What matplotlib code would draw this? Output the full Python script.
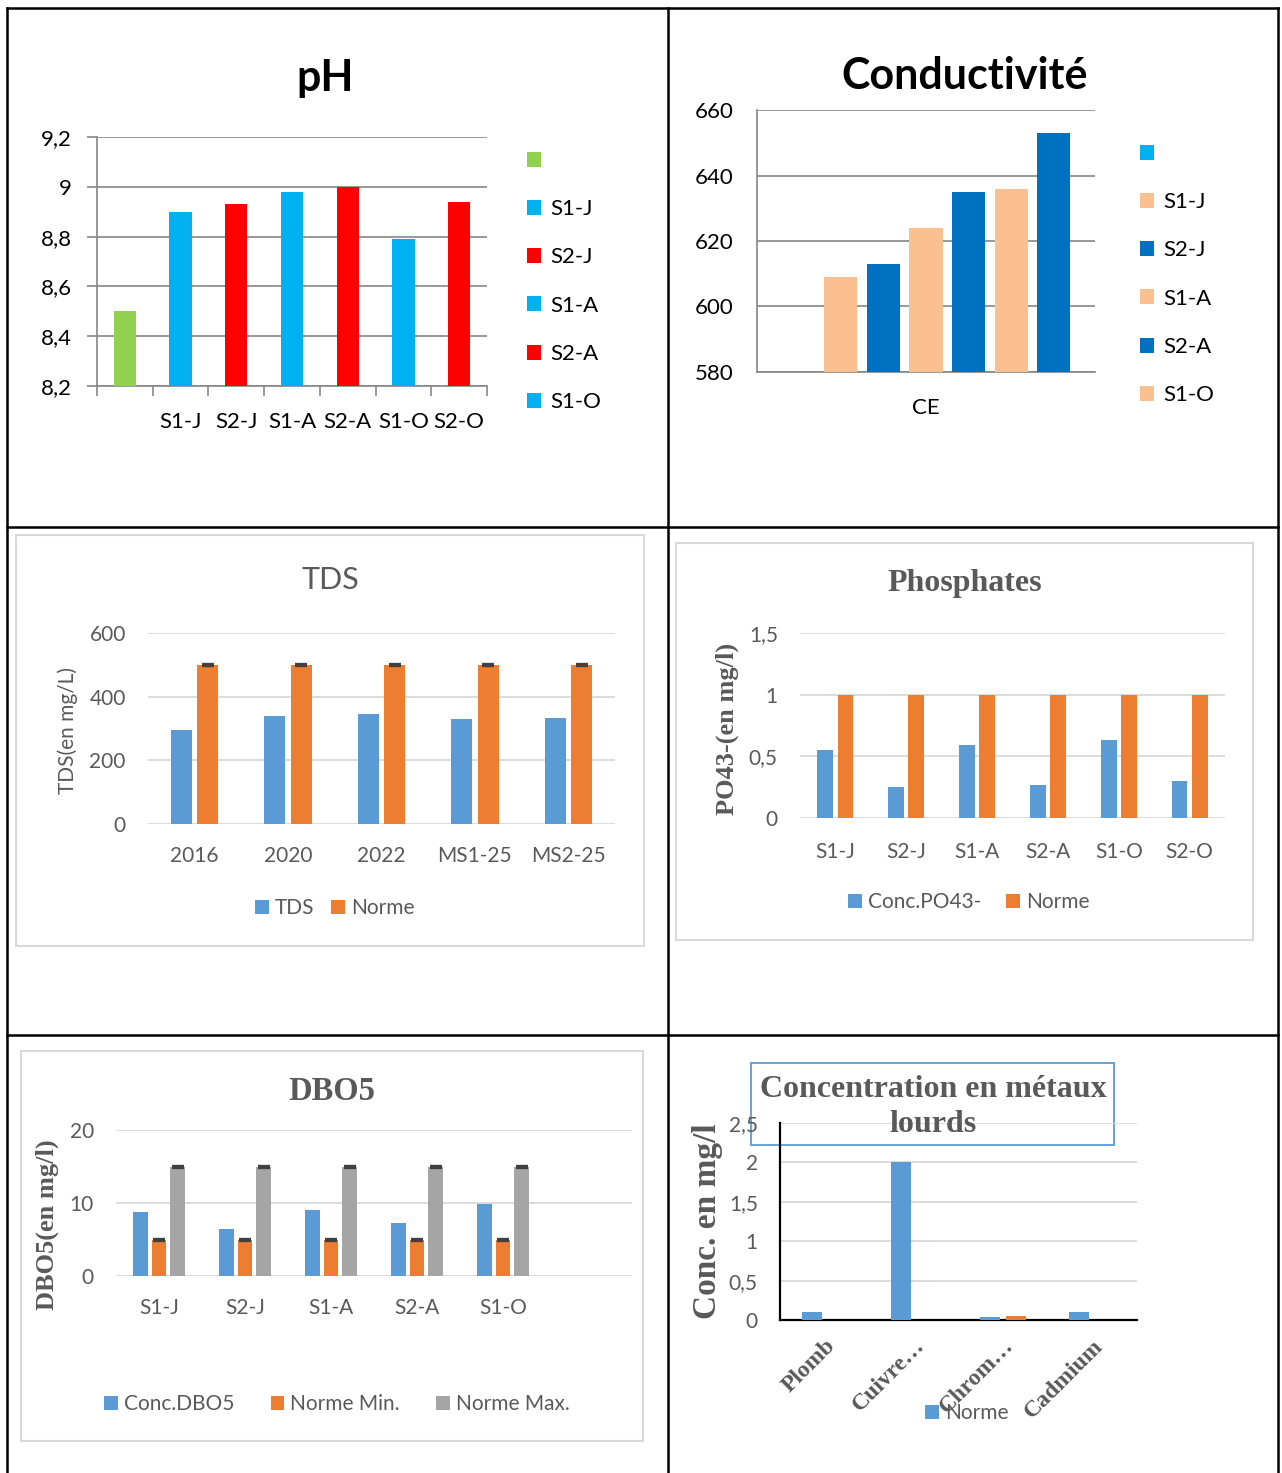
import numpy as np
import matplotlib
matplotlib.use('Agg')
import matplotlib.pyplot as plt
from matplotlib.patches import Rectangle
from matplotlib.ticker import FuncFormatter

W, H = 1282, 1473
DPI = 100

plt.rcParams['font.family'] = ['Lato', 'DejaVu Sans']
SERIF = ['Liberation Serif', 'DejaVu Serif']
GREY_TXT = '#595959'
GRID_OLD = '#868686'
GRID_NEW = '#D9D9D9'
BLUE, ORANGE, GREY = '#5B9BD5', '#ED7D31', '#A5A5A5'

# ---- pH ----
ph_categories = ['', 'S1-J', 'S2-J', 'S1-A', 'S2-A', 'S1-O', 'S2-O']
ph_values = [8.50, 8.90, 8.93, 8.98, 9.00, 8.79, 8.94]
ph_colors = ['#92D050', '#00B0F0', '#FF0000', '#00B0F0', '#FF0000', '#00B0F0', '#FF0000']
ph_ticks = [8.2, 8.4, 8.6, 8.8, 9.0, 9.2]

# ---- Conductivité ----
ce_series = ['', 'S1-J', 'S2-J', 'S1-A', 'S2-A', 'S1-O', 'S2-O']
ce_values = [np.nan, 609, 613, 624, 635, 636, 653]
ce_colors = ['#00B0F0', '#FAC090', '#0070C0', '#FAC090', '#0070C0', '#FAC090', '#0070C0']
ce_ticks = [580, 600, 620, 640, 660]

# ---- TDS ----
tds_categories = ['2016', '2020', '2022', 'MS1-25', 'MS2-25']
tds_values = [295, 340, 345, 330, 332]
tds_norme = [500, 500, 500, 500, 500]
tds_ticks = [0, 200, 400, 600]

# ---- Phosphates ----
po4_categories = ['S1-J', 'S2-J', 'S1-A', 'S2-A', 'S1-O', 'S2-O']
po4_values = [0.55, 0.25, 0.59, 0.27, 0.63, 0.30]
po4_norme = [1, 1, 1, 1, 1, 1]
po4_ticks = [0, 0.5, 1, 1.5]

# ---- DBO5 ----
dbo_categories = ['S1-J', 'S2-J', 'S1-A', 'S2-A', 'S1-O', '']
dbo_values = [8.8, 6.5, 9.0, 7.2, 9.8, np.nan]
dbo_min = [5, 5, 5, 5, 5, np.nan]
dbo_max = [15, 15, 15, 15, 15, np.nan]
dbo_ticks = [0, 10, 20]

# ---- Métaux lourds ----
metal_categories = ['Plomb', 'Cuivre…', 'Chrom…', 'Cadmium']
metal_norme = [0.10, 2.00, 0.04, 0.10]
metal_second = [0.0, 0.0, 0.05, 0.0]
metal_ticks = [0, 0.5, 1, 1.5, 2, 2.5]

fr_fmt = FuncFormatter(lambda v, p: f'{v:g}'.replace('.', ','))

fig = plt.figure(figsize=(W / DPI, H / DPI), dpi=DPI)


def fx(x):
    return x / W


def fy(y):
    return 1 - y / H


def axes_px(left, top, right, bottom):
    ax = fig.add_axes([left / W, 1 - bottom / H, (right - left) / W, (bottom - top) / H])
    ax.set_facecolor('none')
    return ax


# table frame and chart boxes
bg = fig.add_axes([0, 0, 1, 1], zorder=-10)
bg.set_xlim(0, W)
bg.set_ylim(H, 0)
bg.axis('off')
for xv in (7, 668, 1278):
    bg.plot([xv, xv], [8, H], color='black', lw=1.8, solid_capstyle='projecting')
for yv in (8, 527, 1035):
    bg.plot([7, 1278], [yv, yv], color='black', lw=1.8, solid_capstyle='projecting')
for (l, t, r, b) in [(16, 535, 644, 946), (676, 543, 1253, 940), (21, 1051, 643, 1441)]:
    bg.add_patch(Rectangle((l, t), r - l, b - t, fill=False, edgecolor=GRID_NEW, lw=1.5))
bg.add_patch(Rectangle((751, 1063), 1114 - 751, 1145 - 1063, fill=False,
                       edgecolor=BLUE, lw=1.3, zorder=5))


def clean_spines(ax, keep=()):
    for s in ('top', 'right', 'left', 'bottom'):
        ax.spines[s].set_visible(s in keep)


# ================= pH =================
ax = axes_px(97, 137, 487, 386)
x = np.arange(len(ph_categories))
ph_bars = ax.bar(x, ph_values, width=0.4, color=ph_colors, zorder=3)
ax.set_xlim(-0.5, len(ph_categories) - 0.5)
ax.set_ylim(ph_ticks[0], ph_ticks[-1])
ax.set_yticks(ph_ticks)
ax.yaxis.set_major_formatter(fr_fmt)
ax.grid(axis='y', color=GRID_OLD, lw=1.2, zorder=0)
ax.set_axisbelow(True)
clean_spines(ax, keep=('left', 'bottom'))
for s in ('left', 'bottom'):
    ax.spines[s].set_color(GRID_OLD)
    ax.spines[s].set_linewidth(1.2)
ax.set_xticks(np.arange(len(ph_categories) + 1) - 0.5)
ax.set_xticklabels([])
ax.set_xticks(x, minor=True)
ax.set_xticklabels(ph_categories, minor=True)
ax.tick_params(axis='x', which='major', length=7, width=1.2, color=GRID_OLD)
ax.tick_params(axis='x', which='minor', length=0, labelsize=16, pad=19)
ax.tick_params(axis='y', length=7, width=1.2, color=GRID_OLD, labelsize=16, pad=11)
fig.text(fx(325), fy(78), 'pH', ha='center', va='center', fontsize=31, fontweight='bold')
ax.legend(list(ph_bars.patches[:6]), ph_categories[:6], loc='upper left',
          bbox_to_anchor=(fx(527), fy(151)), bbox_transform=fig.transFigure,
          frameon=False, fontsize=16, handlelength=0.65, handleheight=0.65,
          handletextpad=0.4, labelspacing=1.27, borderpad=0, borderaxespad=0)

# ================= Conductivité =================
ax = axes_px(757, 110, 1095, 372)
slot, bw = 0.126, 0.098
ce_handles = []
for i, (v, c) in enumerate(zip(ce_values, ce_colors)):
    bc = ax.bar((i - (len(ce_values) - 1) / 2) * slot, v, width=bw, color=c, zorder=3)
    ce_handles.append(bc.patches[0])
ax.set_xlim(-0.5, 0.5)
ax.set_ylim(ce_ticks[0], ce_ticks[-1])
ax.set_yticks(ce_ticks)
ax.grid(axis='y', color=GRID_OLD, lw=1.2, zorder=0)
ax.set_axisbelow(True)
clean_spines(ax, keep=('left', 'bottom'))
for s in ('left', 'bottom'):
    ax.spines[s].set_color(GRID_OLD)
    ax.spines[s].set_linewidth(1.2)
ax.set_xticks([0])
ax.set_xticklabels(['CE'])
ax.tick_params(axis='x', length=0, labelsize=16, pad=19)
ax.tick_params(axis='y', length=0, labelsize=16, pad=17)
fig.text(fx(965), fy(76), 'Conductivité', ha='center', va='center', fontsize=31,
         fontweight='bold')
ax.legend(ce_handles[:6], ce_series[:6], loc='upper left',
          bbox_to_anchor=(fx(1140), fy(144)), bbox_transform=fig.transFigure,
          frameon=False, fontsize=16, handlelength=0.65, handleheight=0.65,
          handletextpad=0.4, labelspacing=1.27, borderpad=0, borderaxespad=0)


def modern_axes(ax, ticks, cats, xpad):
    ax.set_ylim(ticks[0], ticks[-1])
    ax.set_yticks(ticks)
    ax.yaxis.set_major_formatter(fr_fmt)
    ax.set_xlim(-0.5, len(cats) - 0.5)
    ax.set_xticks(np.arange(len(cats)))
    ax.set_xticklabels(cats)
    ax.grid(axis='y', color=GRID_NEW, lw=1.3, zorder=0)
    ax.set_axisbelow(True)
    clean_spines(ax)
    ax.tick_params(axis='x', length=0, labelsize=15, pad=xpad, labelcolor=GREY_TXT)
    ax.tick_params(axis='y', length=0, labelsize=15, pad=16, labelcolor=GREY_TXT)


# ================= TDS =================
ax = axes_px(148, 633, 615, 824)
x = np.arange(len(tds_categories))
ax.bar(x - 0.142, tds_values, width=0.225, color=BLUE, label='TDS', zorder=3)
ax.bar(x + 0.142, tds_norme, width=0.225, color=ORANGE, label='Norme', zorder=3)
ax.errorbar(x + 0.142, tds_norme, yerr=0, fmt='none', ecolor='#404040', elinewidth=0,
            capsize=4.5, capthick=3, zorder=4)
modern_axes(ax, tds_ticks, tds_categories, 16)
fig.text(fx(330), fy(580), 'TDS', ha='center', va='center', fontsize=22, color=GREY_TXT)
fig.text(fx(68), fy(730), 'TDS(en mg/L)', ha='center', va='center', rotation=90,
         fontsize=15, color=GREY_TXT)
ax.legend(loc='center', bbox_to_anchor=(fx(335), fy(908)), bbox_transform=fig.transFigure,
          ncol=2, frameon=False, fontsize=15, labelcolor=GREY_TXT, handlelength=0.65,
          handleheight=0.65, handletextpad=0.3, columnspacing=0.8)

# ================= Phosphates =================
ax = axes_px(800, 633, 1225, 818)
x = np.arange(len(po4_categories))
ax.bar(x - 0.142, po4_values, width=0.225, color=BLUE, label='Conc.PO43-', zorder=3)
ax.bar(x + 0.142, po4_norme, width=0.225, color=ORANGE, label='Norme', zorder=3)
modern_axes(ax, po4_ticks, po4_categories, 17)
fig.text(fx(965), fy(583), 'Phosphates', ha='center', va='center', fontsize=23,
         color=GREY_TXT, family=SERIF, fontweight='bold')
fig.text(fx(727), fy(729), 'PO43-(en mg/l)', ha='center', va='center', rotation=90,
         fontsize=19, color=GREY_TXT, family=SERIF, fontweight='bold')
ax.legend(loc='center', bbox_to_anchor=(fx(969), fy(902)), bbox_transform=fig.transFigure,
          ncol=2, frameon=False, fontsize=15, labelcolor=GREY_TXT, handlelength=0.65,
          handleheight=0.65, handletextpad=0.3, columnspacing=1.2)

# ================= DBO5 =================
ax = axes_px(116, 1130, 632, 1276)
x = np.arange(len(dbo_categories))
ax.bar(x - 0.218, dbo_values, width=0.174, color=BLUE, label='Conc.DBO5', zorder=3)
ax.bar(x, dbo_min, width=0.174, color=ORANGE, label='Norme Min.', zorder=3)
ax.bar(x + 0.218, dbo_max, width=0.174, color=GREY, label='Norme Max.', zorder=3)
ax.errorbar(x, dbo_min, yerr=0, fmt='none', ecolor='#404040', elinewidth=0,
            capsize=4, capthick=3, zorder=4)
ax.errorbar(x + 0.218, dbo_max, yerr=0, fmt='none', ecolor='#404040', elinewidth=0,
            capsize=4, capthick=3, zorder=4)
modern_axes(ax, dbo_ticks, dbo_categories, 16)
fig.text(fx(332), fy(1091), 'DBO5', ha='center', va='center', fontsize=23.5,
         color=GREY_TXT, family=SERIF, fontweight='bold')
fig.text(fx(47), fy(1225), 'DBO5(en mg/l)', ha='center', va='center', rotation=90,
         fontsize=19, color=GREY_TXT, family=SERIF, fontweight='bold')
ax.legend(loc='center', bbox_to_anchor=(fx(337), fy(1404)), bbox_transform=fig.transFigure,
          ncol=3, frameon=False, fontsize=15, labelcolor=GREY_TXT, handlelength=0.65,
          handleheight=0.65, handletextpad=0.3, columnspacing=1.75)

# ================= Métaux lourds =================
ax = axes_px(780, 1123, 1137, 1320)
x = np.arange(len(metal_categories))
m1 = ax.bar(x - 0.146, metal_norme, width=0.225, color=BLUE, zorder=3)
ax.bar(x + 0.146, metal_second, width=0.225, color=ORANGE, zorder=3)
modern_axes(ax, metal_ticks, metal_categories, 11)
ax.set_xlim(-0.5, len(metal_categories) - 0.5)
for s in ('left', 'bottom'):
    ax.spines[s].set_visible(True)
    ax.spines[s].set_color('black')
    ax.spines[s].set_linewidth(1.6)
for lab in ax.get_xticklabels():
    lab.set_rotation(45)
    lab.set_ha('right')
    lab.set_va('top')
    lab.set_rotation_mode('anchor')
    lab.set_family(SERIF)
    lab.set_fontweight('bold')
    lab.set_fontsize(17)
fig.text(fx(933), fy(1107), 'Concentration en métaux\nlourds', ha='center', va='center',
         fontsize=23, color=GREY_TXT, family=SERIF, fontweight='bold', linespacing=1.3)
fig.text(fx(708), fy(1221), 'Conc. en mg/l', ha='center', va='center', rotation=90,
         fontsize=24, color=GREY_TXT, family=SERIF, fontweight='bold')
ax.legend([m1.patches[0]], ['Norme'], loc='center', bbox_to_anchor=(fx(967), fy(1413)),
          bbox_transform=fig.transFigure, frameon=False, fontsize=15, labelcolor=GREY_TXT,
          handlelength=0.65, handleheight=0.65, handletextpad=0.3)

fig.savefig('out.png', dpi=DPI)
